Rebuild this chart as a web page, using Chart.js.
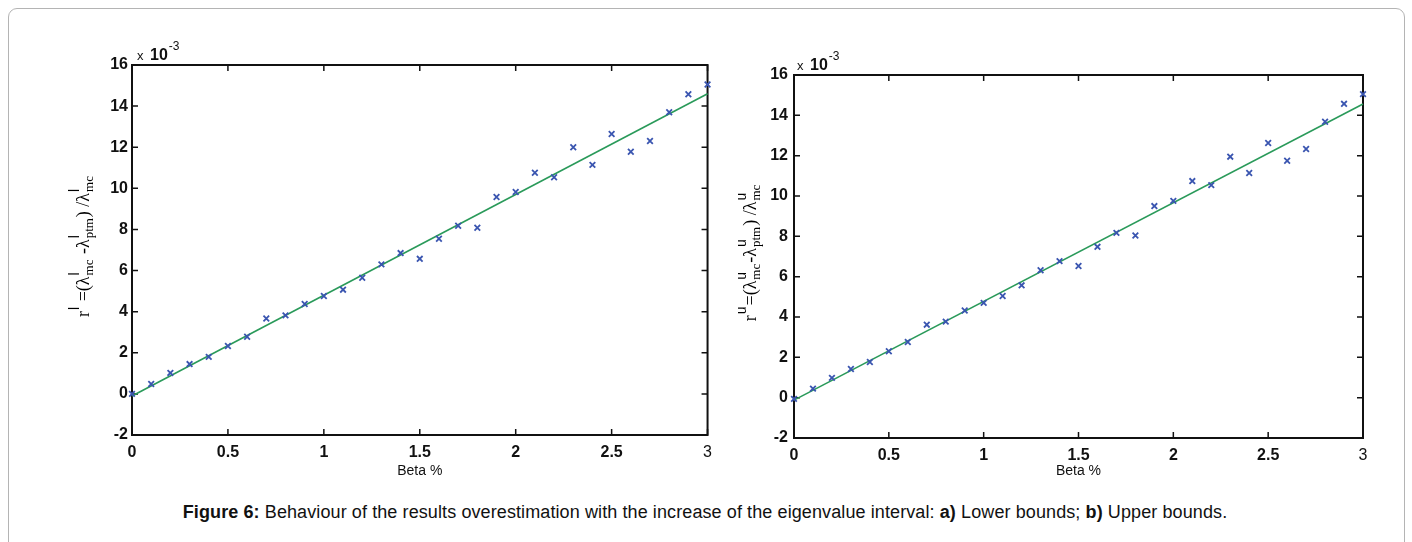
<!DOCTYPE html>
<html>
<head>
<meta charset="utf-8">
<script src="https://cdn.jsdelivr.net/npm/chart.js@4"></script>
<style>
  body { margin: 0; background: #fff; width: 1412px; height: 542px; overflow: hidden; position: relative; }
  #frame { position: absolute; left: 8px; top: 8px; width: 1395px; height: 560px; border: 1px solid #b4b4b4; border-radius: 9px; }
  #chartA { position: absolute; left: 0; top: 0; }
  #chartB { position: absolute; left: 720px; top: 0; }
  #caption { position: absolute; left: 0; width: 1410px; top: 502px; text-align: center; letter-spacing: 0.1px;
             font: 18px "Liberation Sans", Arial, sans-serif; color: #111; }
</style>
</head>
<body>
<div id="frame"></div>
<canvas id="chartA" width="720" height="480"></canvas>
<canvas id="chartB" width="680" height="480"></canvas>
<div id="caption"><b>Figure 6:</b> Behaviour of the results overestimation with the increase of the eigenvalue interval: <b>a)</b> Lower bounds; <b>b)</b> Upper bounds.</div>
<script>
// Beta % values and the ratios (x 10^-3)
const betaValues = [0, 0.1, 0.2, 0.3, 0.4, 0.5, 0.6, 0.7, 0.8, 0.9, 1.0, 1.1, 1.2, 1.3, 1.4, 1.5,
                    1.6, 1.7, 1.8, 1.9, 2.0, 2.1, 2.2, 2.3, 2.4, 2.5, 2.6, 2.7, 2.8, 2.9, 3.0];
const lowerBoundRatio = [0, 0.48, 1.02, 1.45, 1.8, 2.33, 2.78, 3.67, 3.82, 4.37, 4.76, 5.07, 5.65, 6.3, 6.85, 6.57,
                         7.55, 8.18, 8.08, 9.58, 9.82, 10.76, 10.54, 12.0, 11.14, 12.64, 11.78, 12.3, 13.7, 14.58, 15.05];
const upperBoundRatio = [-0.06, 0.45, 0.98, 1.42, 1.77, 2.3, 2.76, 3.62, 3.77, 4.32, 4.7, 5.04, 5.57, 6.32, 6.77, 6.53,
                         7.48, 8.17, 8.04, 9.5, 9.76, 10.74, 10.54, 11.95, 11.14, 12.63, 11.75, 12.33, 13.68, 14.57, 15.05];
// fitted straight lines
const fitBeta = [0, 3];
const lowerBoundFit = [-0.1, 14.6];
const upperBoundFit = [-0.12, 14.56];

const xTickLabels = ['0', '0.5', '1', '1.5', '2', '2.5', '3'];
const yTickLabels = ['-2', '0', '2', '4', '6', '8', '10', '12', '14', '16'];

const sans = '"Liberation Sans", Arial, sans-serif';

function toPoints(xs, ys) {
    return xs.map((x, i) => ({ x: x, y: ys[i] }));
}

function drawRichLabel(ctx, parts, cx, cy) {
    const mainFont = '18px "Liberation Serif", serif';
    const supFont = '14px ' + sans;
    const subFont = '13px "Liberation Serif", serif';
    const sizes = parts.map(p => {
        ctx.font = mainFont;
        const w = ctx.measureText(p.t).width;
        let s = 0;
        if (p.sup) { ctx.font = supFont; s = ctx.measureText(p.sup).width; }
        if (p.sub) { ctx.font = subFont; s = Math.max(s, ctx.measureText(p.sub).width); }
        return [w, s ? s + 2 : 0];
    });
    const total = sizes.reduce((a, b) => a + b[0] + b[1], 0);
    ctx.save();
    ctx.translate(cx, cy);
    ctx.rotate(-Math.PI / 2);
    ctx.fillStyle = '#000';
    ctx.textBaseline = 'alphabetic';
    let x = -total / 2;
    const base = 6;
    parts.forEach((p, i) => {
        ctx.font = mainFont;
        ctx.fillText(p.t, x, base);
        x += sizes[i][0];
        if (p.sup) { ctx.font = supFont; ctx.fillText(p.sup, x + 1, base - 10); }
        if (p.sub) { ctx.font = subFont; ctx.fillText(p.sub, x + 1, base + 4); }
        x += sizes[i][1];
    });
    ctx.restore();
}

// MATLAB style box with inward ticks, exponent note and y label
const matlabFrame = {
    id: 'matlabFrame',
    beforeDatasetsDraw(chart) {
        const { ctx, chartArea: { left, right, top, bottom }, scales: { x, y } } = chart;
        ctx.save();
        ctx.strokeStyle = '#111';
        ctx.lineWidth = 2;
        ctx.strokeRect(left, top, right - left, bottom - top);
        ctx.lineWidth = 1.5;
        ctx.beginPath();
        x.ticks.forEach(t => {
            const px = x.getPixelForValue(t.value);
            ctx.moveTo(px, bottom); ctx.lineTo(px, bottom - 6);
            ctx.moveTo(px, top); ctx.lineTo(px, top + 6);
        });
        y.ticks.forEach(t => {
            const py = y.getPixelForValue(t.value);
            ctx.moveTo(left, py); ctx.lineTo(left + 6, py);
            ctx.moveTo(right, py); ctx.lineTo(right - 6, py);
        });
        ctx.stroke();
        ctx.restore();
    },
    afterDraw(chart, args, opts) {
        const { ctx, chartArea: { left, top, bottom } } = chart;
        ctx.save();
        ctx.fillStyle = '#111';
        ctx.textBaseline = 'alphabetic';
        ctx.font = '13px ' + sans;
        ctx.fillText('x', left + opts.expX, top - 5);
        ctx.font = 'bold 16px ' + sans;
        ctx.fillText('10', left + opts.expX + 13, top - 5);
        const w = ctx.measureText('10').width;
        ctx.font = '12px ' + sans;
        ctx.fillText('-3', left + opts.expX + 14 + w, top - 15);
        ctx.restore();
        drawRichLabel(ctx, opts.label, left + opts.labelOffset, (top + bottom) / 2 - 4);
    }
};

function makeChart(id, ratio, fit, cfg) {
    new Chart(document.getElementById(id), {
        type: 'scatter',
        data: {
            datasets: [{
                data: toPoints(betaValues, ratio),
                pointStyle: 'crossRot',
                pointRadius: 4,
                borderWidth: 1.8,
                borderColor: '#3a55b0',
                backgroundColor: '#3a55b0',
                clip: false
            }, {
                data: toPoints(fitBeta, fit),
                showLine: true,
                pointRadius: 0,
                borderColor: '#2a9a5a',
                borderWidth: 1.6,
                clip: false
            }]
        },
        options: {
            responsive: false,
            animation: false,
            layout: { padding: { top: cfg.top, right: cfg.right, left: 0, bottom: 0 } },
            plugins: {
                legend: { display: false },
                tooltip: { enabled: false },
                matlabFrame: { label: cfg.label, labelOffset: cfg.labelOffset, expX: cfg.expX }
            },
            scales: {
                x: {
                    type: 'linear', min: 0, max: 3,
                    grid: { display: false, drawTicks: false },
                    border: { display: false },
                    afterFit: s => { s.height = cfg.xHeight; },
                    ticks: {
                        stepSize: 0.5, padding: 8, color: '#111',
                        callback: (v, i) => xTickLabels[i],
                        font: c => ({ family: sans, size: 16,
                                      weight: c.tick && c.tick.value === 3 ? 'normal' : 'bold' })
                    },
                    title: { display: true, text: 'Beta %', color: '#111',
                             font: { family: sans, size: 14 }, padding: { top: cfg.titlePad, bottom: 0 } }
                },
                y: {
                    type: 'linear', min: -2, max: 16,
                    grid: { display: false, drawTicks: false },
                    border: { display: false },
                    afterFit: s => { s.width = cfg.yWidth; },
                    ticks: {
                        stepSize: 2, padding: cfg.yPad, color: '#111',
                        callback: (v, i) => yTickLabels[i],
                        font: { family: sans, size: 16, weight: 'bold' }
                    }
                }
            }
        },
        plugins: [matlabFrame]
    });
}

makeChart('chartA', lowerBoundRatio, lowerBoundFit, {
    top: 65, right: 10, yWidth: 132, xHeight: 45, yPad: 4, titlePad: 6,
    labelOffset: -49, expX: 5,
    label: [
        { t: 'r', sup: 'l' }, { t: ' =(' }, { t: 'λ', sup: 'l', sub: 'mc' }, { t: ' -' },
        { t: 'λ', sup: 'l', sub: 'ptm' }, { t: ') /' }, { t: 'λ', sup: 'l', sub: 'mc' }
    ]
});

makeChart('chartB', upperBoundRatio, upperBoundFit, {
    top: 75, right: 37, yWidth: 74, xHeight: 42, yPad: 6, titlePad: 4,
    labelOffset: -44, expX: 3,
    label: [
        { t: 'r', sup: 'u' }, { t: '=(' }, { t: 'λ', sup: 'u', sub: 'mc' }, { t: '-' },
        { t: 'λ', sup: 'u', sub: 'ptm' }, { t: ') /' }, { t: 'λ', sup: 'u', sub: 'mc' }
    ]
});
</script>
</body>
</html>
